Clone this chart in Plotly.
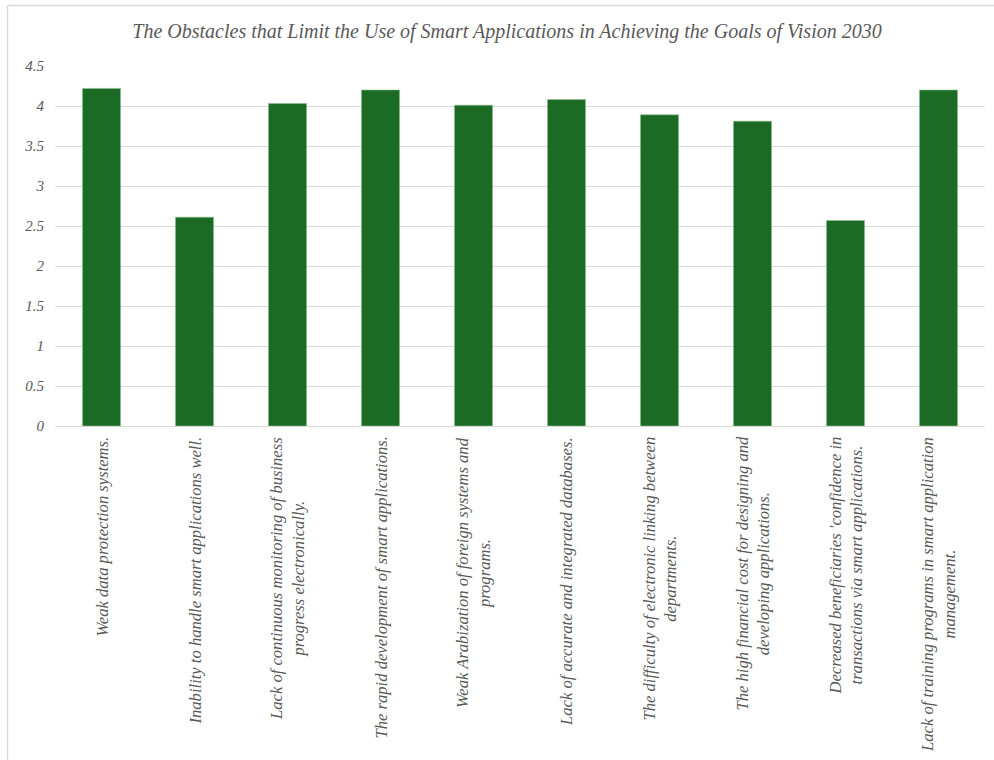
import plotly.graph_objects as go

categories = [
    "Weak data protection systems.",
    "Inability to handle smart applications well.",
    "Lack of continuous monitoring of business<br>progress electronically.",
    "The rapid development of smart applications.",
    "Weak Arabization of foreign systems and<br>programs.",
    "Lack of accurate and integrated databases.",
    "The difficulty of electronic linking between<br>departments.",
    "The high financial cost for designing and<br>developing applications.",
    "Decreased beneficiaries 'confidence in<br>transactions via smart applications.",
    "Lack of training programs in smart application<br>management.",
]
values = [4.22, 2.61, 4.03, 4.20, 4.01, 4.08, 3.89, 3.81, 2.57, 4.20]
y_ticks = [0, 0.5, 1, 1.5, 2, 2.5, 3, 3.5, 4, 4.5]
y_tick_labels = ["0", "0.5", "1", "1.5", "2", "2.5", "3", "3.5", "4", "4.5"]
title = "The Obstacles that Limit the Use of Smart Applications in Achieving the Goals of Vision 2030"

W, H = 994, 760
L, R, T, B = 55, 9, 66, 334
pw, ph = W - L - R, H - T - B

def px_x(p):
    return (p - L) / pw

def px_y(p):
    return (H - B - p) / ph

FONT = "Liberation Serif, Times New Roman, serif"
GRAY = "#595959"

fig = go.Figure()
fig.add_trace(go.Bar(
    x=list(range(len(categories))),
    y=values,
    width=0.41,
    marker=dict(color="#1b6b25", line=dict(width=0.6, color="#8fbf95")),
))

annotations = []
for i, c in enumerate(categories):
    annotations.append(dict(
        x=i, y=px_y(435), xref="x", yref="paper",
        text=c, textangle=-90, showarrow=False,
        xanchor="center", yanchor="top", align="center",
        font=dict(family=FONT, size=16.6, color=GRAY, style="italic"),
    ))

fig.update_layout(
    width=W, height=H,
    margin=dict(l=L, r=R, t=T, b=B),
    paper_bgcolor="white", plot_bgcolor="white",
    showlegend=False,
    title=dict(text=title, x=px_x(507), xref="paper", xanchor="center",
               y=1 - 31 / H, yanchor="middle",
               font=dict(family=FONT, size=20, color=GRAY, style="italic")),
    xaxis=dict(range=[-0.5, len(categories) - 0.5], showticklabels=False,
               showgrid=False, zeroline=False, showline=True,
               linecolor="#d9d9d9", linewidth=1, ticks=""),
    yaxis=dict(range=[0, 4.5], tickvals=y_ticks, ticktext=y_tick_labels,
               showgrid=True, gridcolor="#d9d9d9", gridwidth=1,
               zeroline=False, showline=False, ticks="",
               ticklabelstandoff=10,
               tickfont=dict(family=FONT, size=15, color=GRAY, style="italic")),
    annotations=annotations,
    shapes=[
        dict(type="line", xref="paper", yref="paper",
             x0=px_x(7.5), x1=px_x(1000), y0=px_y(5.5), y1=px_y(5.5),
             line=dict(color="#d9d9d9", width=1.5)),
        dict(type="line", xref="paper", yref="paper",
             x0=px_x(7.5), x1=px_x(7.5), y0=px_y(5.5), y1=px_y(770),
             line=dict(color="#d9d9d9", width=1.5)),
    ],
)

fig.write_html("out.html", config={"displayModeBar": False},
               post_script="document.body.style.margin='0';")
